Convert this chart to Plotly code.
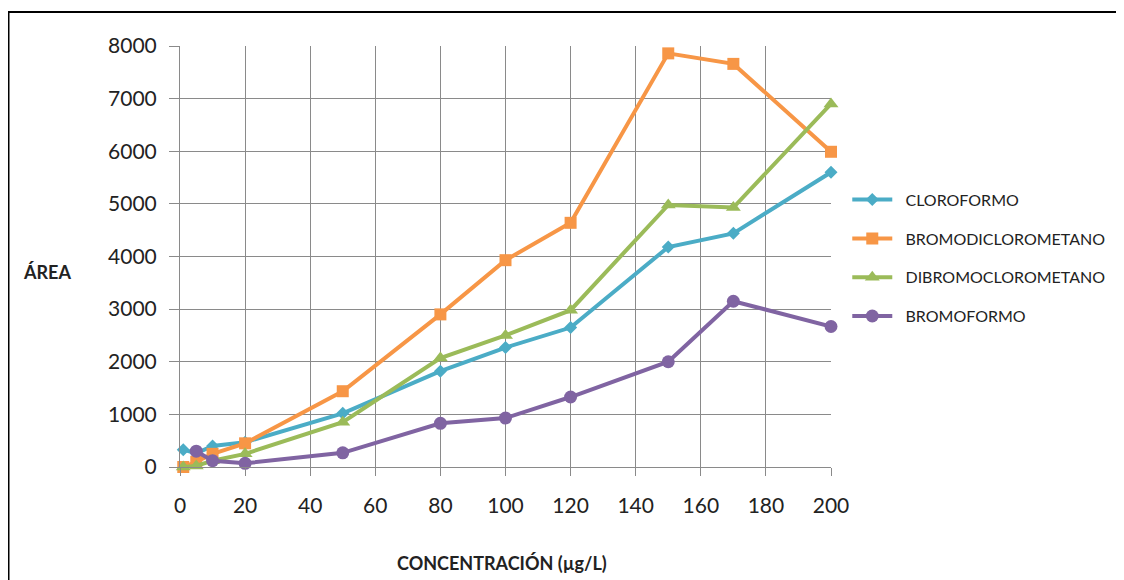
import plotly.graph_objects as go

conc = [1, 5, 10, 20, 50, 80, 100, 120, 150, 170, 200]
cloroformo = [330, 260, 400, 470, 1020, 1820, 2270, 2650, 4180, 4440, 5600]
bromodicloro = [0, 100, 250, 450, 1440, 2900, 3930, 4640, 7860, 7660, 5990]
dibromocloro = [0, 20, 120, 250, 850, 2070, 2500, 2980, 4980, 4930, 6900]
conc_bromo = [5, 10, 20, 50, 80, 100, 120, 150, 170, 200]
bromoformo = [300, 120, 70, 270, 830, 930, 1330, 2000, 3150, 2670]

x_ticks = list(range(0, 201, 20))
y_ticks = list(range(0, 8001, 1000))

series = [
    ("CLOROFORMO", conc, cloroformo, "#4BACC6", "diamond", 10),
    ("BROMODICLOROMETANO", conc, bromodicloro, "#F79646", "square", 12),
    ("DIBROMOCLOROMETANO", conc, dibromocloro, "#9BBB59", "triangle-up", 13),
    ("BROMOFORMO", conc_bromo, bromoformo, "#8064A2", "circle", 13),
]

fig = go.Figure()
for i, (name, xs, ys, col, sym, sz) in enumerate(series):
    fig.add_trace(go.Scatter(
        x=xs, y=ys, name="\u00a0\u00a0" + name, mode="lines+markers",
        line=dict(color=col, width=4),
        marker=dict(color=col, symbol=sym, size=sz),
        cliponaxis=False, legendgroup=f"g{i}",
    ))

grid = "#8a8a8a"
font_family = "Lato, 'Open Sans', sans-serif"
fig.update_layout(
    width=1116, height=572,
    margin=dict(l=172, r=293, t=38, b=113),
    plot_bgcolor="white", paper_bgcolor="white",
    font=dict(family=font_family, color="#222"),
    showlegend=True,
    legend=dict(x=1.025, y=0.496, xanchor="left", yanchor="middle",
                font=dict(size=16, color="#222"), tracegroupgap=15,
                itemwidth=40, bgcolor="rgba(0,0,0,0)"),
    xaxis=dict(range=[0, 200], tickvals=x_ticks, showgrid=True, gridcolor=grid,
               gridwidth=1, showline=True, linecolor=grid, ticks="outside",
               ticklen=8, tickcolor=grid, tickfont=dict(size=21, color="#222"),
               ticklabelstandoff=12, zeroline=False),
    yaxis=dict(range=[0, 8000], tickvals=y_ticks, showgrid=True, gridcolor=grid,
               gridwidth=1, showline=True, linecolor=grid, ticks="outside",
               ticklen=10, tickcolor=grid, tickfont=dict(size=21, color="#222"),
               ticklabelstandoff=8, zeroline=False),
    annotations=[
        dict(text="<b>ÁREA</b>", x=-0.204, y=0.463, xref="paper", yref="paper",
             xanchor="center", yanchor="middle",
             showarrow=False, font=dict(size=18, color="#222")),
        dict(text="<b>CONCENTRACIÓN (µg/L)</b>", x=0.4946, y=-0.228,
             xref="paper", yref="paper", showarrow=False,
             xanchor="center", yanchor="middle",
             font=dict(size=18, color="#222")),
    ],
    shapes=[
        dict(type="line", xref="paper", yref="paper", x0=-0.2642, x1=1.5,
             y0=1.0808, y1=1.0808, line=dict(color="black", width=2)),
        dict(type="line", xref="paper", yref="paper", x0=-0.2642, x1=-0.2642,
             y0=1.0808, y1=-0.4, line=dict(color="black", width=3)),
    ],
)

fig.write_html("out.html")
